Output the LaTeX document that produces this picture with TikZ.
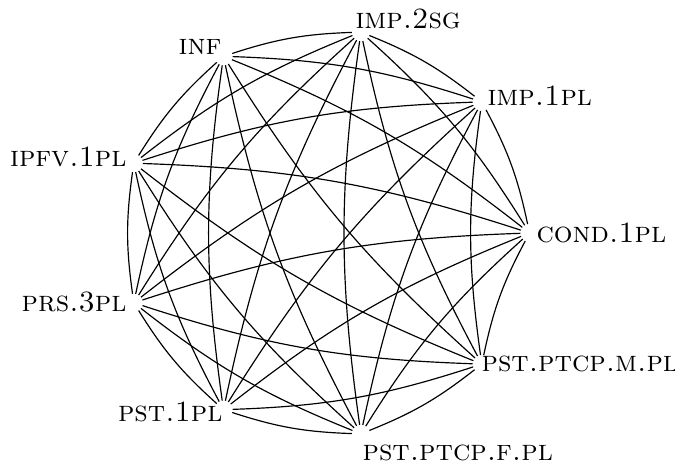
\documentclass[tikz,border=0pt]{standalone}
\begin{document}
\begin{tikzpicture}[x=0.34pt,y=-0.34pt,
  v/.style={circle,inner sep=0pt,minimum size=5.8pt},
  lab/.style={inner sep=0pt},
  edge/.style={bend right=8}]
\useasboundingbox (0,0) rectangle (675,468);
% points on a circle (centre (325.5,233), radius 204), 40 degrees apart
\node[v] (D) at (529.5,233) {};
\node[v] (C) at (481.8,101.9) {};
\node[v] (B) at (360.9,32.1) {};
\node[v] (A) at (223.5,56.3) {};
\node[v] (I) at (133.8,163.2) {};
\node[v] (H) at (133.8,302.8) {};
\node[v] (G) at (223.5,409.7) {};
\node[v] (F) at (360.9,433.9) {};
\node[v] (E) at (481.8,364.1) {};
% labels
\node[lab,anchor=base east] (lA) at (222,55) {\textsc{inf}};
\node[lab,anchor=base west] (lB) at (355,29) {\textsc{imp.2sg}};
\node[lab,anchor=base west] (lC) at (487,106) {\textsc{imp.1pl}};
\node[lab,anchor=base west] (lD) at (536,243) {\textsc{cond.1pl}};
\node[lab,anchor=base west] (lE) at (481,372) {\textsc{pst.ptcp.m.pl}};
\node[lab,anchor=base west] (lF) at (362,461) {\textsc{pst.ptcp.f.pl}};
\node[lab,anchor=base east] (lG) at (223,422) {\textsc{pst.1pl}};
\node[lab,anchor=base east] (lH) at (127,312) {\textsc{prs.3pl}};
\node[lab,anchor=base east] (lI) at (127,167) {\textsc{ipfv.1pl}};
% complete graph
\foreach \a [count=\i] in {D,C,B,A,I,H,G,F,E}{
  \foreach \b [count=\j] in {D,C,B,A,I,H,G,F,E}{
    \ifnum\i<\j \draw[edge] (\a) to (\b); \fi
  }
}
\end{tikzpicture}
\end{document}
